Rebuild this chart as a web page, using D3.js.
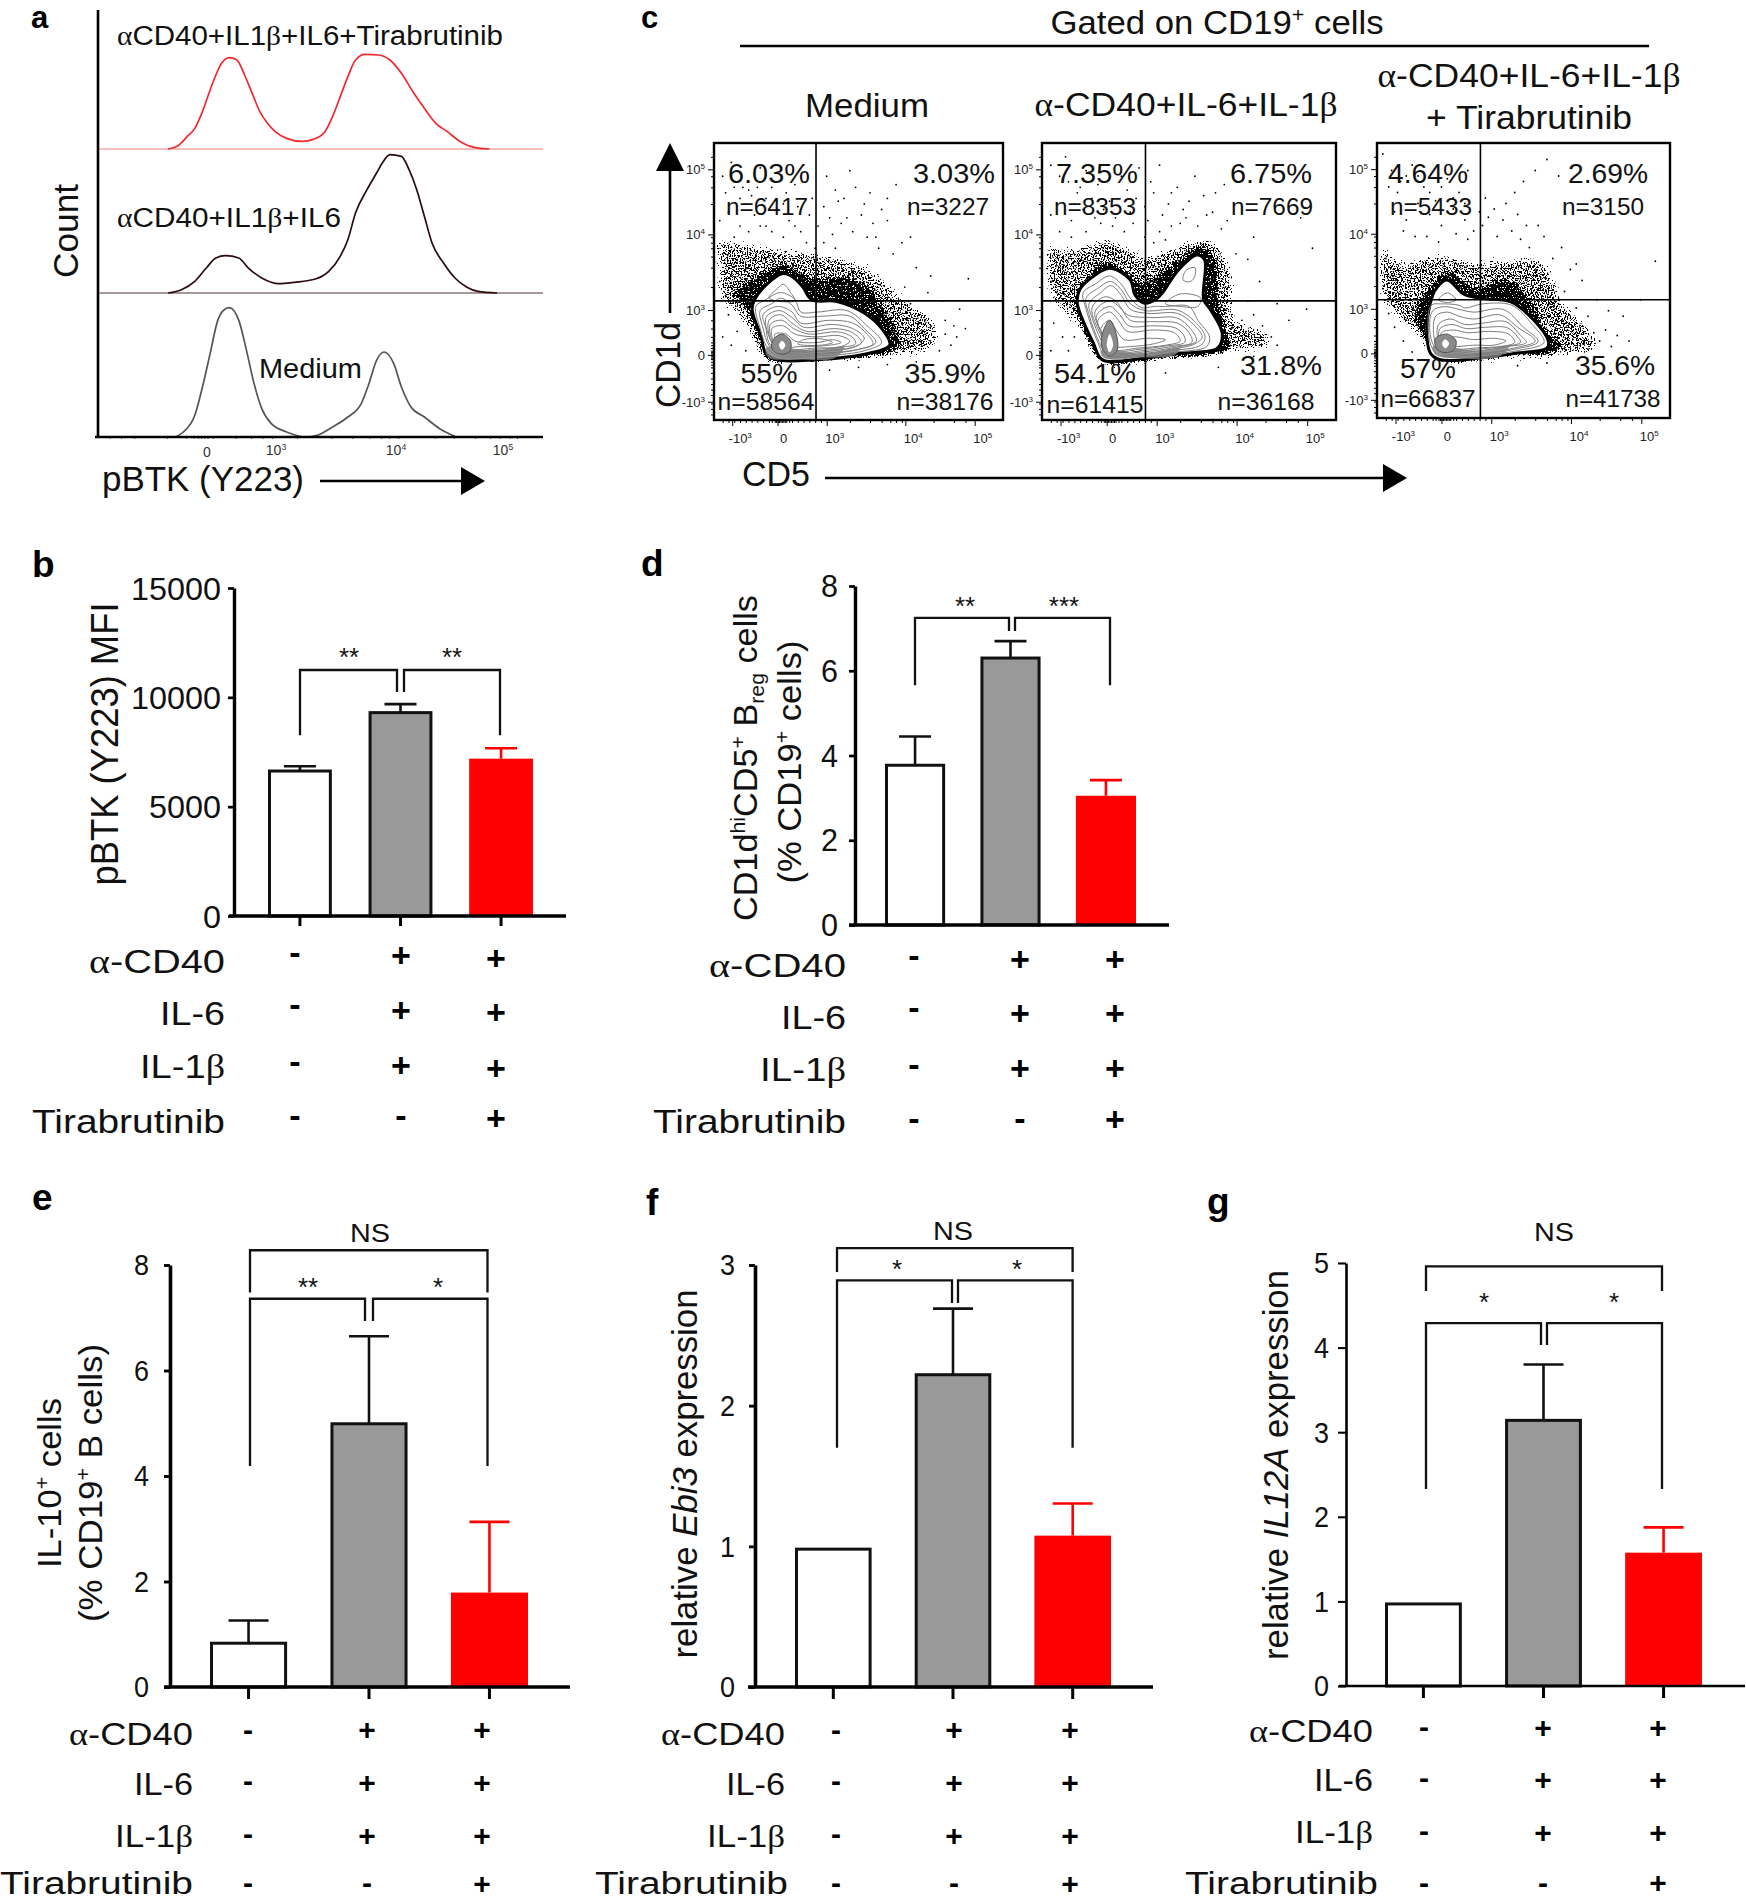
<!DOCTYPE html>
<html>
<head>
<meta charset="utf-8">
<script src="https://cdnjs.cloudflare.com/ajax/libs/d3/7.8.5/d3.min.js"></script>
<style>
  html, body { margin: 0; padding: 0; background: #fff; }
  svg { display: block; }
  text { font-family: "Liberation Sans", Arial, sans-serif; fill: #111; }
</style>
</head>
<body>
<svg id="fig" width="1746" height="1901" viewBox="0 0 1746 1901"></svg>
<script>
const groups = ['Medium', 'Stimulated', 'Stimulated+Tirabrutinib'];
const rowLabels = ['α-CD40', 'IL-6', 'IL-1β', 'Tirabrutinib'];
const rowSigns = [['-', '+', '+'], ['-', '+', '+'], ['-', '+', '+'], ['-', '-', '+']];

const bValues = [6630, 9300, 7195];
const bErrors = [6850, 9690, 7670];
const bTicks = [0, 5000, 10000, 15000];
const dValues = [3.77, 6.3, 3.05];
const dErrors = [4.45, 6.7, 3.42];
const dTicks = [0, 2, 4, 6, 8];
const eValues = [0.83, 4.99, 1.79];
const eErrors = [1.26, 6.65, 3.13];
const eTicks = [0, 2, 4, 6, 8];
const fValues = [0.98, 2.22, 1.076];
const fErrors = [null, 2.69, 1.305];
const fTicks = [0, 1, 2, 3];
const gValues = [0.97, 3.14, 1.576];
const gErrors = [null, 3.8, 1.875];
const gTicks = [0, 1, 2, 3, 4, 5];

// histogram traces, x in display channels, y in counts above each trace's baseline
const redChannel = [183, 208, 233, 253, 273, 293, 308, 323, 343, 363, 383, 403, 423, 443, 463, 493, 533, 563, 593, 613, 633, 653, 673, 698, 733, 763, 793, 823, 853, 883, 913, 943, 983, 1023];
const redCount = [0, 9, 37, 62, 112, 177, 222, 257, 274, 267, 222, 167, 112, 77, 52, 32, 23, 29, 52, 97, 157, 217, 267, 284, 282, 267, 227, 172, 122, 77, 52, 25, 5, 0];
const blackChannel = [183, 218, 253, 283, 308, 333, 368, 393, 428, 473, 513, 568, 603, 633, 653, 673, 703, 728, 743, 763, 793, 813, 833, 853, 873, 903, 933, 963, 993, 1043];
const blackCount = [0, 10, 35, 75, 105, 112, 105, 75, 45, 28, 32, 42, 65, 110, 160, 240, 310, 360, 390, 415, 410, 370, 310, 230, 150, 90, 45, 18, 5, 0];
const grayChannel = [203, 223, 253, 273, 293, 313, 328, 343, 368, 388, 408, 428, 453, 493, 543, 573, 613, 653, 688, 708, 728, 748, 773, 793, 818, 853, 893, 933];
const grayCount = [0, 15, 65, 150, 250, 350, 380, 388, 350, 260, 160, 85, 40, 15, 0, 5, 30, 60, 100, 160, 230, 255, 220, 150, 90, 60, 25, 2];
const histMinorTicks = [30, 60, 95, 180, 230, 250, 262, 270, 278, 286, 300, 360, 400, 430, 455, 520, 610, 665, 710, 740, 760, 785, 880, 930, 985, 1025, 1050, 1075, 1095];

// flow plots, both channels on a 0-100 display scale
const flowTickPos = [6.3, 22, 39, 66.2, 90.2];
const flowTickY = [6.6, 23.5, 39.7, 67, 90.5];
const flowTickLabels = ['-10^3^', '0', '10^3^', '10^4^', '10^5^'];
const flowMinorX = [3, 5, 7, 9, 11, 13, 15, 17, 19, 20, 21, 21.5, 22, 22.5, 23, 23.5, 24, 24.5, 25, 26, 27, 29, 31, 33, 35, 37, 47, 54, 58, 61, 63, 65, 76, 83, 87];
const flowMinorY = [2, 4, 6, 9, 11, 13, 15, 17, 19, 20, 21, 22, 22.5, 23, 23.5, 24, 24.5, 25, 26, 27, 28, 30, 33, 36, 48, 55, 59, 62, 64, 66, 78, 84, 88, 95];

const flow1Speckle = [[1, 66], [9.2, 64], [23.5, 62], [37.8, 60], [50.5, 57], [60, 50], [66.3, 44], [75.9, 37], [77.8, 28.9], [72.7, 24.1], [60, 22.3], [47.3, 21.1], [34.6, 20.5], [18.7, 20.5], [14, 26.5], [9.2, 36.1], [2, 43.4], [1, 55.4]];
const flow1Solid = [[6, 46], [15.6, 53], [23.5, 56.6], [34.6, 52], [47.3, 52], [55.2, 47], [57.6, 42], [63, 35], [65, 26.5], [60, 23.5], [34.6, 21.5], [18.7, 21], [15.6, 26.5], [12, 37.3], [9, 42]];
const flow1White = [[23.5, 52.8], [18.7, 49.4], [14, 43.4], [13.2, 39.8], [16.3, 30.1], [17.9, 24.1], [21.9, 21.7], [34.6, 21.7], [53.7, 24.1], [60.8, 27.1], [58.4, 32.5], [52, 38.6], [42.5, 42.8], [33.8, 43.4], [30.6, 48.2], [26.7, 52]];
const flow1Band = [[18, 26], [35, 25], [45, 26.5], [42, 22.5], [28, 21.9], [19, 22.5]];
const flow1Core = [[20.5, 29], [23.5, 31], [26.5, 28.5], [26, 24.5], [22, 24], [20, 26]];
const flow1Center = [[22.5, 27], [23.5, 28.6], [24.7, 27], [23.5, 25.4]];
const flow1Contours = [
  [[19, 44], [22, 47.5], [24, 49], [26.5, 46], [28, 43]],
  [[14.5, 41], [18, 43.5], [23, 46], [28, 43.5], [30, 39], [36, 39], [46, 39.5], [53, 34], [58, 28], [52, 25], [35, 23], [22, 23], [18, 27], [16, 33]],
  [[16, 39.5], [20, 42], [23, 44], [27, 41.5], [30, 37.5], [38, 37.5], [47, 37.5], [52, 33], [56, 28], [50, 25.5], [35, 23.5], [23, 23.5], [19, 27], [17, 33]],
  [[17, 38], [22, 41], [27, 39], [30, 35], [40, 36], [48, 35], [53, 31], [55, 27.5], [50, 25.5], [35, 24], [23, 24], [19, 28], [18, 33]],
  [[18, 37], [22.5, 39.5], [27, 37], [31, 33.5], [41, 34.5], [48, 33], [52, 29.5], [49, 26.5], [35, 24.7], [23.5, 24.5], [20, 28]],
  [[19, 36], [23, 38], [27, 35], [32, 32], [42, 33], [48, 31.5], [51, 28], [47, 26], [35, 25], [24, 25], [20, 28]],
  [[19.5, 34.5], [23.5, 36], [27.5, 33], [33, 31], [43, 31.8], [48, 29.8], [49, 27.5], [44, 26.3], [35, 25.5], [25, 25], [20.5, 28]],
  [[20, 33], [24, 34], [28, 31], [36, 30], [43, 30.5], [47, 28.5], [44, 26.5], [35, 26], [25, 25.5], [21, 28]],
  [[21, 31], [25, 31], [28, 28.5], [36, 28], [41, 29], [44, 28], [40, 27], [30, 26.5], [23, 26.5]],
  [[29, 27.5], [37, 27], [41, 28], [37, 29.3], [31, 29]]
];
const flow1Dots = [[3, 88], [6, 93], [9, 80], [12, 86], [16, 91], [20, 84], [24, 78], [28, 85], [31, 92], [5, 75], [9, 70], [14, 74], [18, 70], [22, 76], [26, 72], [30, 68], [33, 74], [36, 70], [39, 88], [42, 83], [45, 80], [46, 73], [47, 90], [52, 78], [55, 71], [58, 76], [60, 80], [63, 85], [48, 68], [53, 66], [57, 62], [62, 60], [68, 66], [70, 55], [75, 52], [88, 51], [80, 36], [85, 40], [83, 34], [74, 46], [68, 42], [72, 32], [78, 25], [82, 27], [87, 33], [79, 43], [66, 48], [44, 71], [41, 67], [38, 64], [12, 68], [7, 66], [3, 60], [2, 50], [4, 45], [3, 30], [6, 27], [8, 32], [11, 25], [5, 38], [50, 19], [60, 20], [70, 21], [40, 18], [76, 30], [80, 31], [75, 34], [73, 36], [84, 30], [11, 78], [13, 81], [15, 84], [12, 83], [10, 84], [18, 80], [25, 82], [29, 77], [34, 80], [38, 77], [40, 73], [43, 79], [49, 84], [51, 74], [54, 82], [56, 66], [60, 72], [65, 64], [7, 84], [4, 82], [2, 72], [16, 70], [20, 68], [24, 66], [28, 70], [32, 64], [35, 62], [42, 62]];

const flow2Speckle = [[1.5, 63], [9.7, 62], [22.2, 66], [34.7, 60], [47.2, 64], [56.6, 66], [62.8, 60], [65.9, 45.8], [65.9, 37.3], [77.7, 31.3], [77.7, 26.5], [62.8, 24.1], [39.4, 21.1], [20.6, 19.9], [15.9, 26.5], [9.7, 36.1], [3, 43.4]];
const flow2Solid = [[13.6, 50], [22.2, 57.8], [30, 53], [33.9, 50], [45.6, 58], [53.4, 63.3], [58.9, 59], [60.5, 43.4], [62.8, 33.7], [64.4, 25.3], [39.4, 21.7], [20.6, 20.5], [15.2, 27.7], [11, 43.4]];
const flow2White = [[23, 54.8], [15.9, 50.6], [12.8, 47], [12, 42.2], [17.5, 27.7], [20.6, 21.7], [34.7, 22.3], [47.2, 24.1], [59.7, 25.9], [61.3, 31.3], [57.3, 39.8], [55, 43.4], [55.3, 57.8], [52.7, 59.6], [46.4, 54.2], [40.9, 45.8], [38.6, 43.4], [34.7, 42.2], [31.6, 45.2], [30, 50.6]];
const flow2Band = [[20, 25], [35, 24], [47, 26], [45, 23.5], [30, 22.5], [21, 22.5]];
const flow2Core = [[20.5, 31], [23, 36], [25.5, 30], [25.5, 25], [23, 23], [20.5, 26]];
const flow2Center = [[22, 27], [23, 31], [24.2, 27], [23, 24.5]];
const flow2Contours = [
  [[14, 46], [18, 49], [23, 52], [27, 49], [30, 44], [34, 40.5], [38, 41], [42, 41], [50, 41], [53, 36], [57, 30], [56, 26.5], [45, 24.5], [34, 23], [22, 22.5], [19, 28], [15, 40]],
  [[15, 44], [19, 47.5], [23.2, 50], [27, 47], [30, 42], [35, 39.5], [46, 39.7], [52, 35.5], [55.5, 30], [54, 27], [44, 25], [34, 23.5], [22.5, 23], [19.5, 28], [16, 38]],
  [[16, 42], [20, 46], [23.5, 48.5], [27, 45], [30, 40], [36, 38.5], [46, 38.5], [51, 35], [54.5, 30], [52, 27.5], [44, 25.5], [34, 24], [23, 23.5], [20, 29], [17, 37]],
  [[17, 40.5], [21.5, 44.5], [25, 43], [29, 38], [37, 37], [46, 36.8], [50.5, 33], [52.5, 28.5], [44, 26], [34, 24.5], [23, 24], [20.5, 29.5]],
  [[18, 39], [23, 43], [27, 40], [30, 36], [38, 35.5], [46, 35], [50, 31.5], [51, 28], [44, 26.5], [34, 25], [23, 24.5], [21, 30]],
  [[18.5, 37.5], [23, 41], [26.5, 38], [29.5, 34], [38, 34], [45.5, 33.2], [48.5, 30], [48.5, 28], [42, 26.7], [33, 25.5], [24, 25], [21, 30]],
  [[19, 36], [23, 39], [26, 36], [29, 32], [38, 32.5], [45, 31.5], [47, 28.5], [42, 27], [33, 26], [24, 25.5], [21, 30]],
  [[20, 33], [23, 36], [25.5, 32], [28, 29], [36, 29.5], [42, 29], [38, 27.5], [30, 26.5], [24, 26.5], [21, 29]],
  [[48, 50.5], [49, 54], [52, 55], [52, 52], [50.5, 50]],
  [[42, 42], [47, 45.5], [54, 44], [53, 41], [47, 41]]
];
const flow2Dots = [[3, 92], [6, 88], [8, 95], [12, 82], [15, 90], [19, 85], [23, 79], [27, 88], [30, 75], [33, 91], [5, 78], [10, 72], [14, 76], [18, 73], [24, 70], [28, 68], [32, 80], [37, 86], [40, 92], [43, 78], [46, 84], [49, 73], [52, 88], [55, 81], [58, 75], [61, 69], [36, 72], [40, 68], [44, 70], [48, 76], [62, 85], [66, 60], [70, 58], [72, 66], [74, 50], [88, 73], [92, 62], [80, 42], [84, 36], [72, 38], [70, 43], [78, 30], [80, 27], [68, 36], [90, 40], [4, 60], [7, 55], [3, 50], [5, 46], [4, 35], [7, 30], [3, 25], [11, 30], [9, 25], [13, 20], [42, 17], [60, 19], [72, 23], [75, 34], [74, 27], [9, 86], [11, 78], [13, 84], [17, 80], [21, 76], [25, 73], [29, 83], [31, 71], [35, 77], [38, 82], [41, 74], [44, 82], [47, 71], [50, 79], [53, 70], [56, 74], [59, 82], [63, 72], [35, 66], [38, 64], [42, 65], [6, 68], [3, 74], [10, 66], [15, 68], [20, 71]];

const flow3Speckle = [[1.5, 63], [8, 57], [20.5, 60], [34.1, 57], [44.3, 58], [55.7, 58], [61.4, 50], [63.6, 42.9], [72.7, 33.3], [76.1, 26], [64.8, 22.4], [46.6, 21.2], [21.6, 20.6], [12.5, 30.8], [4.5, 38.1], [1, 44]];
const flow3Solid = [[19.3, 50], [23.9, 54], [34.1, 48], [42, 51], [48.9, 48], [53.4, 42], [58, 32], [64, 27], [60.2, 23], [46.6, 22.4], [21.6, 20.6], [15.9, 28.4], [12, 38]];
const flow3White = [[23.9, 50.2], [19.9, 46.6], [18.2, 41.7], [17, 32], [18.2, 23.6], [21.6, 21.2], [35.2, 21.8], [47.7, 23.6], [58, 25.4], [58.5, 27.8], [53.4, 35.7], [45.5, 42.3], [35.2, 43.5], [29.5, 45.1]];
const flow3Band = [[19, 26], [35, 24.5], [45, 26], [42, 22.5], [25, 21.8], [20, 23]];
const flow3Core = [[20, 29], [24, 30.5], [27, 28], [26, 24.5], [22, 24], [20, 26]];
const flow3Center = [[22.2, 27], [23.3, 28.6], [24.6, 27], [23.3, 25.4]];
const flow3Contours = [
  [[21, 43], [24, 45.5], [27, 43], [24, 42]],
  [[18.5, 41], [22, 41.5], [28, 41], [30, 40], [36, 41.5], [46, 41], [53, 34], [57, 27.5], [48, 24.5], [35, 22.8], [22, 22.5], [19, 25], [17.5, 32]],
  [[19, 39], [23, 40.5], [28, 39.5], [33, 38.5], [43, 39.5], [50, 33], [55, 27.8], [47, 25], [35, 23.2], [22.5, 23], [19.5, 26], [18, 32]],
  [[20, 37], [24, 38.5], [28, 37], [33, 36], [42, 37.5], [48, 33], [54, 28], [47, 25.5], [35, 23.5], [23, 23.5], [20, 27]],
  [[21, 34], [25, 36], [30, 34], [36, 34.5], [44, 35], [49, 30], [51, 27.5], [45, 26], [35, 24.5], [24, 24], [21, 28]],
  [[21.5, 32.5], [25.5, 34], [30.5, 32.5], [37, 33], [44.5, 32.8], [48, 29.5], [49, 27.5], [43, 26], [34, 25], [24.5, 24.5], [21.5, 27.5]],
  [[22, 31], [26, 32], [31, 31], [38, 31.5], [45, 30.5], [47, 27.5], [42, 26], [34, 25.5], [25, 25], [22, 27]],
  [[23, 29], [27, 29.5], [33, 28.5], [40, 29], [44, 28], [40, 26.5], [33, 26.5], [26, 26], [23, 27]]
];
const flow3Dots = [[2, 96], [5, 90], [8, 86], [12, 92], [16, 84], [20, 79], [24, 87], [28, 82], [31, 90], [6, 75], [10, 72], [14, 78], [18, 74], [22, 70], [26, 76], [30, 72], [33, 68], [37, 80], [40, 76], [43, 72], [47, 82], [50, 86], [54, 90], [58, 94], [62, 88], [36, 70], [41, 66], [46, 68], [52, 62], [55, 70], [60, 58], [66, 54], [70, 50], [68, 56], [95, 57], [75, 43], [79, 39], [78, 32], [82, 30], [86, 28], [72, 37], [84, 37], [72, 25], [58, 20], [48, 19], [3, 58], [5, 52], [2, 47], [4, 38], [6, 33], [9, 28], [12, 24], [76, 28], [80, 26], [74, 31], [68, 40], [64, 46], [90, 43], [4, 84], [7, 82], [10, 88], [14, 88], [18, 82], [22, 84], [26, 80], [30, 78], [9, 68], [13, 66], [17, 66], [21, 64], [27, 67], [31, 65], [35, 75], [38, 73], [44, 78], [48, 74], [51, 70], [49, 65], [57, 66], [63, 62]];

const flowPctLabels = [
  ['6.03%', '3.03%', '55%', '35.9%'],
  ['7.35%', '6.75%', '54.1%', '31.8%'],
  ['4.64%', '2.69%', '57%', '35.6%']
];
const flowNLabels = [
  ['n=6417', 'n=3227', 'n=58564', 'n=38176'],
  ['n=8353', 'n=7669', 'n=61415', 'n=36168'],
  ['n=5433', 'n=3150', 'n=66837', 'n=41738']
];

const svg = d3.select('#fig');
const fill = { white: '#fff', gray: '#999', red: '#f00' };
const barColors = [fill.white, fill.gray, fill.red];

// small markup: ^sup^ ~sub~ /italic/, and greek letters go to the serif face
function richText(sel, str, size) {
  const parts = str.split(/(\^[^^]*\^|~[^~]*~|\/[^/]*\/|[αβ])/).filter((p) => p.length);
  parts.forEach((p) => {
    const head = p[0];
    if (head === '^' || head === '~') {
      sel.append('tspan')
        .attr('font-size', size * 0.62)
        .attr('baseline-shift', head === '^' ? size * 0.36 : -size * 0.2)
        .text(p.slice(1, -1));
    } else if (head === '/') {
      sel.append('tspan').attr('font-style', 'italic').text(p.slice(1, -1));
    } else if (p === 'α' || p === 'β') {
      sel.append('tspan').attr('font-family', '"Liberation Serif", serif').text(p);
    } else {
      sel.append('tspan').text(p);
    }
  });
}

function label(parent, str, opts) {
  const size = opts.size;
  const t = parent.append('text')
    .attr('font-size', size)
    .attr('text-anchor', opts.anchor || 'start')
    .attr('font-weight', opts.bold ? 'bold' : null)
    .attr('transform', `translate(${opts.x},${opts.y})${opts.rotate ? ' rotate(-90)' : ''}`);
  if (opts.fillColor) t.style('fill', opts.fillColor);
  richText(t, str, size);
  if (opts.len) t.attr('textLength', opts.len).attr('lengthAdjust', 'spacingAndGlyphs');
  return t;
}

function arrow(parent, x0, y0, x1, y1, headLen, headWidth) {
  const horizontal = y0 === y1;
  parent.append('line')
    .attr('x1', x0).attr('y1', y0)
    .attr('x2', horizontal ? x1 - headLen : x1)
    .attr('y2', horizontal ? y1 : y1 + headLen)
    .attr('stroke', '#000').attr('stroke-width', 2.6);
  const pts = horizontal
    ? [[x1, y1], [x1 - headLen, y1 - headWidth / 2], [x1 - headLen, y1 + headWidth / 2]]
    : [[x1, y1], [x1 - headWidth / 2, y1 + headLen], [x1 + headWidth / 2, y1 + headLen]];
  parent.append('polygon').attr('points', pts.join(' ')).attr('fill', '#000');
}

// grain filters: the cloud outline is blurred, added to noise and thresholded, so density fades at the edge
const defs = svg.append('defs');
function grainFilter(id, seed, blur, weight) {
  const f = defs.append('filter').attr('id', id)
    .attr('x', -0.15).attr('y', -0.15).attr('width', 1.3).attr('height', 1.3)
    .attr('color-interpolation-filters', 'sRGB');
  f.append('feGaussianBlur').attr('in', 'SourceAlpha').attr('stdDeviation', blur).attr('result', 'soft');
  f.append('feTurbulence').attr('type', 'fractalNoise').attr('baseFrequency', 0.7)
    .attr('numOctaves', 2).attr('seed', seed).attr('result', 'noise');
  f.append('feColorMatrix').attr('in', 'noise').attr('type', 'matrix')
    .attr('values', '0 0 0 0 0  0 0 0 0 0  0 0 0 0 0  1 0 0 0 0').attr('result', 'grain');
  f.append('feComposite').attr('in', 'grain').attr('in2', 'soft').attr('operator', 'arithmetic')
    .attr('k1', 0).attr('k2', 1).attr('k3', weight).attr('k4', -1).attr('result', 'sum');
  f.append('feComponentTransfer').attr('in', 'sum')
    .append('feFuncA').attr('type', 'linear').attr('slope', 30).attr('intercept', 0);
}
grainFilter('grainOuter', 3, 5, 0.5);
grainFilter('grainInner', 8, 2.5, 0.62);

function drawHistogram() {
  const g = svg.append('g');
  const x = d3.scaleLinear().domain([0, 1163]).range([98, 543]);
  const traces = [
    { channel: redChannel, count: redCount, base: 149, color: '#ee2a2e', baseColor: '#f6a8a8' },
    { channel: blackChannel, count: blackCount, base: 293, color: '#2a0c0e', baseColor: '#8d7676' },
    { channel: grayChannel, count: grayCount, base: 437, color: '#555', baseColor: null }
  ];
  traces.forEach((tr) => {
    const y = d3.scaleLinear().domain([0, 1000]).range([tr.base, tr.base - 333.3]);
    if (tr.baseColor) {
      g.append('line').attr('x1', x(3)).attr('x2', x(1163)).attr('y1', y(0)).attr('y2', y(0))
        .attr('stroke', tr.baseColor).attr('stroke-width', 1.6);
    }
    const line = d3.line().curve(d3.curveMonotoneX).x((d) => x(d[0])).y((d) => y(d[1]));
    g.append('path').attr('d', line(d3.zip(tr.channel, tr.count)))
      .attr('fill', 'none').attr('stroke', tr.color).attr('stroke-width', 1.7);
  });
  const xAxisGroup = g.append('g').attr('transform', 'translate(0,437)')
    .call(d3.axisBottom(x).tickValues(histMinorTicks).tickSize(2).tickFormat(''));
  xAxisGroup.select('.domain').remove();
  xAxisGroup.selectAll('line').attr('stroke', '#555');
  g.append('line').attr('x1', 95).attr('x2', 543).attr('y1', 437).attr('y2', 437).attr('stroke', '#000').attr('stroke-width', 2.6);
  g.append('line').attr('x1', 98).attr('x2', 98).attr('y1', 10).attr('y2', 438).attr('stroke', '#000').attr('stroke-width', 2.6);

  label(g, 'αCD40+IL1β+IL6+Tirabrutinib', { x: 117, y: 45, size: 27, len: 386 });
  label(g, 'αCD40+IL1β+IL6', { x: 117, y: 227, size: 27, len: 224 });
  label(g, 'Medium', { x: 259, y: 378, size: 27, len: 103 });
  label(g, 'Count', { x: 78, y: 231, size: 35, anchor: 'middle', rotate: true, len: 94 });
  label(g, 'pBTK (Y223)', { x: 102, y: 491, size: 35, len: 202 });
  arrow(g, 320, 481, 485, 481, 24, 28);
  label(g, '0', { x: 207, y: 457, size: 14, anchor: 'middle', fillColor: '#333' });
  label(g, '10^3^', { x: 276, y: 455, size: 14, anchor: 'middle', fillColor: '#333' });
  label(g, '10^4^', { x: 396, y: 455, size: 14, anchor: 'middle', fillColor: '#333' });
  label(g, '10^5^', { x: 503, y: 455, size: 14, anchor: 'middle', fillColor: '#333' });
}

function drawFlowPlot(cfg) {
  const g = svg.append('g');
  const x = d3.scaleLinear().domain([0, 100]).range([cfg.x0, cfg.x1]);
  const y = d3.scaleLinear().domain([0, 100]).range([cfg.y1, cfg.y0]);
  const closed = d3.line().curve(d3.curveCatmullRomClosed.alpha(0.5)).x((d) => x(d[0])).y((d) => y(d[1]));

  g.append('path').attr('d', closed(cfg.speckle)).attr('filter', 'url(#grainOuter)').attr('fill', '#000');
  g.append('path').attr('d', closed(cfg.solid)).attr('filter', 'url(#grainInner)').attr('fill', '#000');
  g.selectAll('circle.dot').data(cfg.dots).join('circle').attr('class', 'dot')
    .attr('cx', (d) => x(d[0])).attr('cy', (d) => y(d[1])).attr('r', 0.9).attr('fill', '#000');
  g.append('path').attr('d', closed(cfg.white)).attr('fill', '#fff').attr('stroke', '#000').attr('stroke-width', 3);
  g.append('path').attr('d', closed(cfg.band)).attr('fill', '#808080').attr('opacity', 0.8);
  cfg.contours.forEach((c) => {
    g.append('path').attr('d', closed(c)).attr('fill', 'none').attr('stroke', '#7c7c7c').attr('stroke-width', 1);
  });
  g.append('path').attr('d', closed(cfg.core)).attr('fill', '#8a8a8a').attr('stroke', '#555').attr('stroke-width', 1);
  g.append('path').attr('d', closed(cfg.center)).attr('fill', '#fff');

  g.append('line').attr('x1', x(cfg.splitX)).attr('x2', x(cfg.splitX)).attr('y1', y(0)).attr('y2', y(100)).attr('stroke', '#000').attr('stroke-width', 1.6);
  g.append('line').attr('x1', x(0)).attr('x2', x(100)).attr('y1', y(cfg.splitY)).attr('y2', y(cfg.splitY)).attr('stroke', '#000').attr('stroke-width', 1.6);
  g.append('rect').attr('x', cfg.x0).attr('y', cfg.y0).attr('width', cfg.x1 - cfg.x0).attr('height', cfg.y1 - cfg.y0)
    .attr('fill', 'none').attr('stroke', '#000').attr('stroke-width', 2.4);

  const bottom = g.append('g').attr('transform', `translate(0,${cfg.y1})`);
  bottom.append('g').call(d3.axisBottom(x).tickValues(flowMinorX).tickSize(3).tickFormat('')).select('.domain').remove();
  bottom.append('g').call(d3.axisBottom(x).tickValues(flowTickPos).tickSize(6).tickFormat('')).select('.domain').remove();
  const left = g.append('g').attr('transform', `translate(${cfg.x0},0)`);
  left.append('g').call(d3.axisLeft(y).tickValues(flowMinorY).tickSize(3).tickFormat('')).select('.domain').remove();
  left.append('g').call(d3.axisLeft(y).tickValues(flowTickY).tickSize(6).tickFormat('')).select('.domain').remove();

  flowTickLabels.forEach((t, i) => {
    label(g, t, { x: x(flowTickPos[i]) + (i === 1 ? 6 : 8), y: cfg.y1 + 23, size: 13, anchor: 'middle', fillColor: '#222' });
    label(g, t, { x: cfg.x0 - 9, y: y(flowTickY[i]) + 5, size: 13, anchor: 'end', fillColor: '#222' });
  });

  cfg.pct.forEach((t, i) => label(g, t, { x: cfg.pctPos[i][0], y: cfg.pctPos[i][1], size: 28, anchor: 'middle', len: cfg.pctLen[i] }));
  cfg.n.forEach((t, i) => label(g, t, { x: cfg.nPos[i][0], y: cfg.nPos[i][1], size: 23, anchor: 'middle', len: cfg.nLen[i] }));
}

function drawBarPanel(cfg) {
  const g = svg.append('g');
  const x = d3.scaleBand().domain(groups).range(cfg.barRange).paddingInner(cfg.gap);
  const y = d3.scaleLinear().domain([0, cfg.max]).range([cfg.y0, cfg.y1]);
  const bw = x.bandwidth();
  const cx = (i) => x(groups[i]) + bw / 2;

  cfg.values.forEach((v, i) => {
    const stroked = i < 2;
    const inset = stroked ? cfg.barStroke / 2 : 0;
    g.append('rect')
      .attr('x', x(groups[i]) + inset)
      .attr('y', y(v))
      .attr('width', bw - 2 * inset)
      .attr('height', y(0) - y(v))
      .attr('fill', barColors[i])
      .attr('stroke', stroked ? '#111' : 'none')
      .attr('stroke-width', cfg.barStroke);
    const top = cfg.errors[i];
    if (top !== null) {
      const c = stroked ? '#111' : '#f00';
      g.append('line').attr('x1', cx(i)).attr('x2', cx(i)).attr('y1', y(v)).attr('y2', y(top)).attr('stroke', c).attr('stroke-width', 2.6);
      g.append('line').attr('x1', cx(i) - cfg.cap / 2).attr('x2', cx(i) + cfg.cap / 2).attr('y1', y(top)).attr('y2', y(top)).attr('stroke', c).attr('stroke-width', 2.6);
    }
  });

  const yAxis = d3.axisLeft(y).tickValues(cfg.ticks).tickSize(cfg.yTickSize).tickSizeOuter(0).tickFormat((d) => d);
  const yg = g.append('g').attr('transform', `translate(${cfg.axisX},0)`).call(yAxis);
  yg.selectAll('line').attr('stroke', '#000').attr('stroke-width', cfg.axisStroke * 0.8);
  yg.select('.domain').attr('stroke', '#000').attr('stroke-width', cfg.axisStroke);
  yg.selectAll('text').remove();
  cfg.ticks.forEach((t) => label(g, String(t), { x: cfg.tickRight, y: y(t) + cfg.tickSize * 0.36, size: cfg.tickSize, anchor: 'end', len: cfg.tickLen * String(t).length }));

  if (cfg.xTickSize) {
    const xg = g.append('g').attr('transform', `translate(0,${cfg.y0})`)
      .call(d3.axisBottom(x).tickSize(cfg.xTickSize).tickFormat(''));
    xg.select('.domain').remove();
    xg.selectAll('line').attr('stroke', '#000').attr('stroke-width', 3);
  }
  g.append('line').attr('x1', cfg.axisExtent[0]).attr('x2', cfg.axisExtent[1]).attr('y1', cfg.y0).attr('y2', cfg.y0)
    .attr('stroke', '#000').attr('stroke-width', cfg.axisStroke);

  cfg.brackets.forEach((b) => {
    const path = d3.path();
    path.moveTo(b.x0, y(b.leg0));
    path.lineTo(b.x0, y(b.top));
    path.lineTo(b.x1, y(b.top));
    path.lineTo(b.x1, y(b.leg1));
    g.append('path').attr('d', path.toString()).attr('fill', 'none').attr('stroke', '#111').attr('stroke-width', 2.3);
    if (b.text === 'NS') {
      label(g, 'NS', { x: b.tx, y: b.ty, size: 26, anchor: 'middle', len: 40 });
    } else {
      label(g, b.text, { x: b.tx, y: b.ty, size: 26, anchor: 'middle' });
    }
  });

  rowLabels.forEach((name, r) => {
    const dx = r === 3 ? (cfg.tiraDx || 0) : 0;
    label(g, name, { x: cfg.rowRight + dx, y: cfg.rowBase[r], size: cfg.rowSize, anchor: 'end', len: cfg.rowLen[r] });
    rowSigns[r].forEach((s, c) => {
      const cy = cfg.signY[r][c];
      label(g, s, { x: cfg.signX[c], y: cy + (s === '+' ? 0.34 : 0.27) * cfg.signSize, size: cfg.signSize, anchor: 'middle', bold: true, fillColor: '#000' });
    });
  });
  cfg.yLabels.forEach((l) => label(g, l.text, { x: l.x, y: l.y, size: l.size, anchor: 'middle', rotate: true, len: l.len }));
}

drawHistogram();

// flow cytometry panel c
const header = svg.append('g');
label(header, 'Gated on CD19^+^ cells', { x: 1217, y: 34, size: 34, anchor: 'middle', len: 333 });
header.append('line').attr('x1', 740).attr('x2', 1649).attr('y1', 46).attr('y2', 46).attr('stroke', '#000').attr('stroke-width', 2.6);
label(header, 'Medium', { x: 867, y: 117, size: 34, anchor: 'middle', len: 124 });
label(header, 'α-CD40+IL-6+IL-1β', { x: 1186, y: 116, size: 33, anchor: 'middle', len: 303 });
label(header, 'α-CD40+IL-6+IL-1β', { x: 1529, y: 87, size: 33, anchor: 'middle', len: 303 });
label(header, '+ Tirabrutinib', { x: 1529, y: 129, size: 33, anchor: 'middle', len: 206 });
label(header, 'CD1d', { x: 680, y: 365, size: 35, anchor: 'middle', rotate: true, len: 86 });
arrow(header, 670, 313, 670, 143, 28, 28);
label(header, 'CD5', { x: 742, y: 486, size: 35, len: 68 });
arrow(header, 825, 478, 1407, 478, 24, 28);

drawFlowPlot({
  x0: 714, x1: 1003, y0: 143, y1: 420, splitX: 35.3, splitY: 43,
  speckle: flow1Speckle, solid: flow1Solid, white: flow1White, band: flow1Band, core: flow1Core, center: flow1Center,
  contours: flow1Contours, dots: flow1Dots,
  pct: flowPctLabels[0], n: flowNLabels[0],
  pctPos: [[769, 183], [954, 183], [769, 383], [945, 383]],
  nPos: [[767, 215], [948, 215], [766, 410], [945, 410]],
  pctLen: [82, 82, 57, 81], nLen: [82, 82, 97, 97]
});
drawFlowPlot({
  x0: 1042, x1: 1336, y0: 143, y1: 420, splitX: 35.2, splitY: 43,
  speckle: flow2Speckle, solid: flow2Solid, white: flow2White, band: flow2Band, core: flow2Core, center: flow2Center,
  contours: flow2Contours, dots: flow2Dots,
  pct: flowPctLabels[1], n: flowNLabels[1],
  pctPos: [[1097, 183], [1271, 183], [1095, 383], [1281, 375]],
  nPos: [[1095, 215], [1272, 215], [1095, 413], [1266, 410]],
  pctLen: [82, 82, 82, 82], nLen: [82, 82, 97, 97]
});
drawFlowPlot({
  x0: 1377, x1: 1670, y0: 143, y1: 418, splitX: 35.3, splitY: 43,
  speckle: flow3Speckle, solid: flow3Solid, white: flow3White, band: flow3Band, core: flow3Core, center: flow3Center,
  contours: flow3Contours, dots: flow3Dots,
  pct: flowPctLabels[2], n: flowNLabels[2],
  pctPos: [[1428, 183], [1608, 183], [1428, 378], [1615, 375]],
  nPos: [[1431, 215], [1603, 215], [1428, 407], [1613, 407]],
  pctLen: [80, 80, 56, 80], nLen: [82, 82, 95, 95]
});

// bar panels
drawBarPanel({
  values: bValues, errors: bErrors, ticks: bTicks, max: 15000,
  y0: 916, y1: 588, axisX: 234, axisExtent: [229, 566], axisStroke: 3.4, yTickSize: 6, xTickSize: 10,
  barRange: [268, 533], gap: 0.365, barStroke: 3, cap: 32,
  tickRight: 221, tickSize: 32, tickLen: 18,
  brackets: [
    { x0: 300, x1: 397, top: 11250, leg0: 8270, leg1: 10240, text: '**', tx: 349, ty: 666 },
    { x0: 404, x1: 500, top: 11250, leg0: 10240, leg1: 8270, text: '**', tx: 452, ty: 666 }
  ],
  rowRight: 225, rowBase: [973, 1025, 1078, 1133], rowSize: 34, rowLen: [136, 65, 85, 193],
  signX: [295, 401, 496], signSize: 34,
  signY: [[955, 955, 958], [1007, 1010, 1012], [1064, 1065, 1068], [1118, 1118, 1118]],
  yLabels: [{ text: 'pBTK (Y223) MFI', x: 118, y: 744, size: 38, len: 283 }]
});
drawBarPanel({
  values: dValues, errors: dErrors, ticks: dTicks, max: 8,
  y0: 925, y1: 586, axisX: 855, axisExtent: [849, 1169], axisStroke: 3.4, yTickSize: 6, xTickSize: 0,
  barRange: [885, 1136], gap: 0.37, barStroke: 3, cap: 32,
  tickRight: 838, tickSize: 31, tickLen: 17,
  brackets: [
    { x0: 915, x1: 1009, top: 7.25, leg0: 5.66, leg1: 6.94, text: '**', tx: 965, ty: 615 },
    { x0: 1015, x1: 1110, top: 7.25, leg0: 6.94, leg1: 5.66, text: '***', tx: 1064, ty: 615 }
  ],
  rowRight: 846, rowBase: [977, 1029, 1081, 1133], rowSize: 34, rowLen: [137, 65, 86, 193],
  signX: [914, 1020, 1115], signSize: 34,
  signY: [[958, 959, 959], [1010, 1013, 1013], [1067, 1068, 1068], [1121, 1121, 1119]],
  yLabels: [
    { text: 'CD1d^hi^CD5^+^ B~reg~ cells', x: 757, y: 758, size: 34, len: 326 },
    { text: '(% CD19^+^ cells)', x: 801, y: 762, size: 34, len: 243 }
  ]
});
drawBarPanel({
  values: eValues, errors: eErrors, ticks: eTicks, max: 8,
  y0: 1687, y1: 1265, axisX: 170, axisExtent: [164, 570], axisStroke: 3.6, yTickSize: 6, xTickSize: 12,
  barRange: [210, 528], gap: 0.36, barStroke: 3, cap: 40,
  tickRight: 149, tickSize: 29, tickLen: 15,
  brackets: [
    { x0: 250, x1: 487.5, top: 8.28, leg0: 7.48, leg1: 7.48, text: 'NS', tx: 370, ty: 1242 },
    { x0: 250, x1: 365, top: 7.36, leg0: 4.19, leg1: 6.94, text: '**', tx: 308, ty: 1296 },
    { x0: 373, x1: 487.5, top: 7.36, leg0: 6.94, leg1: 4.19, text: '*', tx: 438, ty: 1296 }
  ],
  rowRight: 193, rowBase: [1745, 1795, 1847, 1894], rowSize: 31, rowLen: [124, 59, 78, 193],
  signX: [248, 367, 482], signSize: 30,
  signY: [[1732, 1730, 1730], [1783, 1783, 1783], [1836, 1836, 1836], [1885, 1885, 1884]],
  yLabels: [
    { text: 'IL-10^+^ cells', x: 61, y: 1483, size: 34, len: 170 },
    { text: '(% CD19^+^ B cells)', x: 102, y: 1483, size: 34, len: 278 }
  ]
});
drawBarPanel({
  values: fValues, errors: fErrors, ticks: fTicks, max: 3,
  y0: 1687, y1: 1265, axisX: 755, axisExtent: [748, 1153], axisStroke: 3.6, yTickSize: 6, xTickSize: 12,
  barRange: [795, 1111], gap: 0.36, barStroke: 3, cap: 40,
  tickRight: 735, tickSize: 29, tickLen: 15,
  brackets: [
    { x0: 837, x1: 1072.6, top: 3.12, leg0: 2.95, leg1: 2.95, text: 'NS', tx: 953, ty: 1240 },
    { x0: 837, x1: 952, top: 2.89, leg0: 1.7, leg1: 2.73, text: '*', tx: 897, ty: 1278 },
    { x0: 958, x1: 1072.6, top: 2.89, leg0: 2.73, leg1: 1.7, text: '*', tx: 1017, ty: 1278 }
  ],
  rowRight: 785, tiraDx: 3, rowBase: [1745, 1795, 1847, 1894], rowSize: 31, rowLen: [124, 59, 78, 193],
  signX: [836, 954, 1070], signSize: 30,
  signY: [[1732, 1730, 1730], [1783, 1783, 1783], [1836, 1836, 1836], [1885, 1885, 1884]],
  yLabels: [{ text: 'relative /Ebi3/ expression', x: 697, y: 1474, size: 35, len: 369 }]
});
drawBarPanel({
  values: gValues, errors: gErrors, ticks: gTicks, max: 5,
  y0: 1686, y1: 1263, axisX: 1346, axisExtent: [1339, 1745], axisStroke: 2.6, yTickSize: 8, xTickSize: 12,
  barRange: [1385, 1702], gap: 0.36, barStroke: 3, cap: 40,
  tickRight: 1329, tickSize: 29, tickLen: 15,
  brackets: [
    { x0: 1426, x1: 1662, top: 4.96, leg0: 4.67, leg1: 4.67, text: 'NS', tx: 1554, ty: 1241 },
    { x0: 1426, x1: 1541, top: 4.29, leg0: 2.33, leg1: 4.03, text: '*', tx: 1484, ty: 1311 },
    { x0: 1547, x1: 1662, top: 4.29, leg0: 4.03, leg1: 2.33, text: '*', tx: 1614, ty: 1311 }
  ],
  rowRight: 1373, tiraDx: 5, rowBase: [1742, 1791, 1843, 1894], rowSize: 31, rowLen: [124, 59, 78, 193],
  signX: [1424, 1543, 1658], signSize: 30,
  signY: [[1729, 1728, 1728], [1780, 1780, 1780], [1833, 1833, 1833], [1885, 1885, 1883]],
  yLabels: [{ text: 'relative /IL12A/ expression', x: 1288, y: 1465, size: 35, len: 390 }]
});

// panel letters
const panelLetters = ['a', 'b', 'c', 'd', 'e', 'f', 'g'];
const letterX = [31, 32, 641, 641, 32, 646, 1207];
const letterY = [28, 577, 28, 576, 1210, 1215, 1214];
const letterSize = [31, 37, 31, 37, 37, 37, 37];
panelLetters.forEach((l, i) => label(svg, l, { x: letterX[i], y: letterY[i], size: letterSize[i], bold: true, fillColor: '#000' }));
</script>
</body>
</html>
